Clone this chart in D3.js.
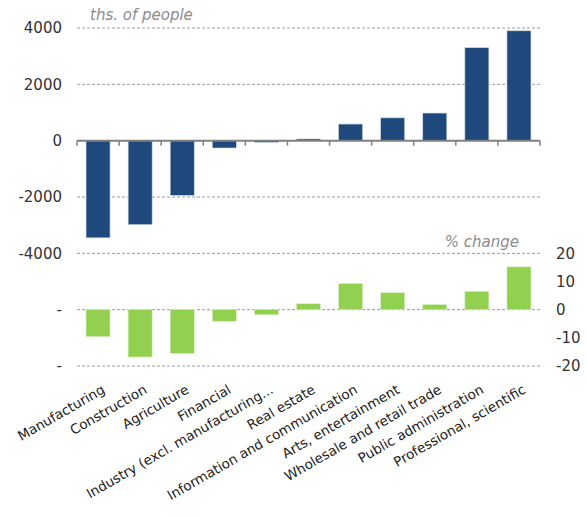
<!DOCTYPE html>
<html><head><meta charset="utf-8">
<script src="https://cdn.jsdelivr.net/npm/d3@7"></script>
<style>body{margin:0;background:#fff}svg{display:block}</style>
</head><body>
<script>
const categories = ["Manufacturing","Construction","Agriculture","Financial","Industry (excl. manufacturing...","Real estate","Information and communication","Arts, entertainment","Wholesale and retail trade","Public administration","Professional, scientific"];
const thsChange = [-3450,-2980,-1940,-260,-60,60,590,810,980,3300,3900];
const pctChange = [-9.6,-16.8,-15.6,-4.1,-1.8,2.1,9.3,6.0,1.8,6.5,15.2];
const leftTicks = [4000,2000,0,-2000,-4000,-6000,-8000];
const leftTickLabels = ["4000","2000","0","-2000","-4000","-","-"];
const rightTicks = [20,10,0,-10,-20];
const rightTickLabels = ["20","10","0","-10","-20"];

const W=587,H=517;
const svg=d3.select("body").append("svg").attr("width",W).attr("height",H);
const x=d3.scaleBand().domain(categories).range([77,540]).paddingInner(0.43).paddingOuter(0.215);
const xb=d3.scaleBand().domain(categories).range([77,540]);
const yL=d3.scaleLinear().domain([-8000,4000]).range([366,28]);
const yR=d3.scaleLinear().domain([-20,100]).range([366,28]);
const font="DejaVu Sans, Verdana, sans-serif";

// gridlines
svg.append("g").selectAll("line").data(leftTicks.filter(d=>d!==0)).join("line")
  .attr("x1",77).attr("x2",540).attr("y1",d=>yL(d)).attr("y2",d=>yL(d))
  .attr("stroke","#9a9a9a").attr("stroke-width",1).attr("stroke-dasharray","3,2");

// left axis labels
svg.append("g").selectAll("text").data(leftTicks).join("text")
  .attr("x",62).attr("y",d=>yL(d)).attr("dy","0.35em").attr("text-anchor","end")
  .attr("font-family",font).attr("font-size",15).attr("fill","#333")
  .text((d,i)=>leftTickLabels[i]);

// right axis labels
svg.append("g").selectAll("text").data(rightTicks).join("text")
  .attr("x",556).attr("y",d=>yR(d)).attr("dy","0.35em").attr("text-anchor","start")
  .attr("font-family",font).attr("font-size",15).attr("fill","#333")
  .text((d,i)=>rightTickLabels[i]);

// top bars
svg.append("g").selectAll("rect").data(thsChange).join("rect")
  .attr("x",(d,i)=>x(categories[i])).attr("width",x.bandwidth())
  .attr("y",d=>yL(Math.max(0,d))).attr("height",d=>Math.abs(yL(d)-yL(0)))
  .attr("fill","#1f497d").attr("stroke","#c9d3e0").attr("stroke-width",0.6);

// bottom bars
svg.append("g").selectAll("rect").data(pctChange).join("rect")
  .attr("x",(d,i)=>x(categories[i])).attr("width",x.bandwidth())
  .attr("y",d=>yR(Math.max(0,d))).attr("height",d=>Math.abs(yR(d)-yR(0)))
  .attr("fill","#92d050").attr("stroke","#d6edc0").attr("stroke-width",0.6);

// zero axis of top chart
const ax=svg.append("g");
ax.append("line").attr("x1",77).attr("x2",540).attr("y1",yL(0)).attr("y2",yL(0))
  .attr("stroke","#808080").attr("stroke-width",2);
const bounds=categories.map(c=>xb(c)).concat([540]);
ax.selectAll("line.tk").data(bounds).join("line").attr("class","tk")
  .attr("x1",d=>d).attr("x2",d=>d).attr("y1",yL(0)).attr("y2",yL(0)+5)
  .attr("stroke","#808080").attr("stroke-width",1.5);

// titles
svg.append("text").attr("x",90).attr("y",20).attr("font-family",font).attr("font-size",15)
  .attr("font-style","italic").attr("fill","#8c8c8c").text("ths. of people");
svg.append("text").attr("x",519).attr("y",247).attr("text-anchor","end").attr("font-family",font).attr("font-size",15)
  .attr("font-style","italic").attr("fill","#8c8c8c").text("% change");

// x labels
svg.append("g").selectAll("text").data(categories).join("text")
  .attr("transform",d=>`translate(${xb(d)+xb.bandwidth()/2+3},${384}) rotate(-30)`)
  .attr("text-anchor","end").attr("dy","0.71em")
  .attr("font-family",font).attr("font-size",13.5).attr("fill","#222")
  .text(d=>d);
</script>
</body></html>
